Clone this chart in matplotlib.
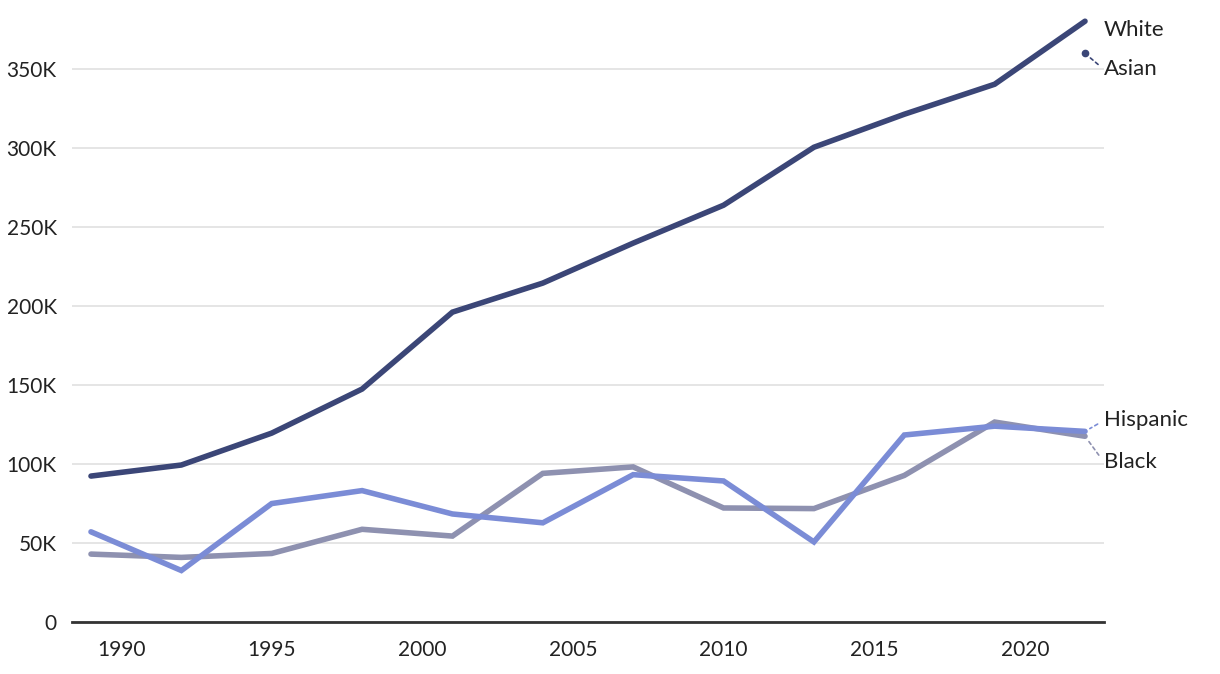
import matplotlib.pyplot as plt
from matplotlib.ticker import FuncFormatter

plt.rcParams['font.family'] = ['Lato', 'DejaVu Sans']

# Data, values in thousands
years = [1989, 1992, 1995, 1998, 2001, 2004, 2007, 2010, 2013, 2016, 2019, 2022]
white = [92.4, 99.4, 119.6, 147.5, 196.2, 214.6, 239.9, 263.9, 300.6, 321.5, 340.5, 380.4]
hispanic = [57.1, 32.6, 75.0, 83.2, 68.4, 62.8, 93.3, 89.3, 50.7, 118.4, 124.0, 120.7]
black = [43.0, 40.9, 43.4, 58.7, 54.4, 94.1, 98.2, 72.2, 71.8, 92.8, 126.6, 117.6]
asian_years = [2022]
asian = [360.0]

colors = {'White': '#3b4677', 'Asian': '#3b4677', 'Hispanic': '#7b8cd6', 'Black': '#8e91b0'}

fig = plt.figure(figsize=(12.2, 6.74), dpi=100)
ax = fig.add_axes([72 / 1220, 52 / 674, (1104 - 72) / 1220, (622 - 10) / 674])

ax.plot(years, black, color=colors['Black'], linewidth=4, solid_capstyle='round', solid_joinstyle='miter', zorder=3)
ax.plot(years, hispanic, color=colors['Hispanic'], linewidth=4, solid_capstyle='round', solid_joinstyle='miter', zorder=4)
ax.plot(years, white, color=colors['White'], linewidth=4, solid_capstyle='round', solid_joinstyle='miter', zorder=5)
ax.plot(asian_years, asian, 'o', color=colors['Asian'], markersize=4.5, zorder=5)

ax.set_xlim(1988.37, 2022.63)
ax.set_ylim(0, 387.5)
ax.set_yticks([0, 50, 100, 150, 200, 250, 300, 350])
ax.set_xticks([1990, 1995, 2000, 2005, 2010, 2015, 2020])
ax.yaxis.set_major_formatter(FuncFormatter(lambda v, p: '0' if v == 0 else f'{int(v)}K'))

ax.grid(axis='y', color='#e3e3e3', linewidth=1.3)
ax.set_axisbelow(True)
for s in ['top', 'right', 'left']:
    ax.spines[s].set_visible(False)
ax.spines['bottom'].set_color('#333333')
ax.spines['bottom'].set_linewidth(2)
ax.tick_params(axis='both', length=0, labelsize=15, colors='#222222')
ax.tick_params(axis='y', pad=11)
ax.tick_params(axis='x', pad=13)

# End labels with leader lines
labels = [
    ('White', years[-1], white[-1], (19, -9), False),
    ('Asian', asian_years[-1], asian[-1], (19, -16), True),
    ('Hispanic', years[-1], hispanic[-1], (19, 11), True),
    ('Black', years[-1], black[-1], (19, -26), True),
]
for name, x, y, off, leader in labels:
    kw = {}
    if leader:
        kw['arrowprops'] = dict(arrowstyle='-', color=colors[name], linestyle=(0, (2, 2)),
                                linewidth=1.2, relpos=(0, 0.5), shrinkA=3, shrinkB=4)
    ax.annotate(name, xy=(x, y), xytext=off, textcoords='offset pixels',
                ha='left', va='center', fontsize=16, color='#222222',
                annotation_clip=False, **kw)

fig.savefig('out.png', dpi=100)
